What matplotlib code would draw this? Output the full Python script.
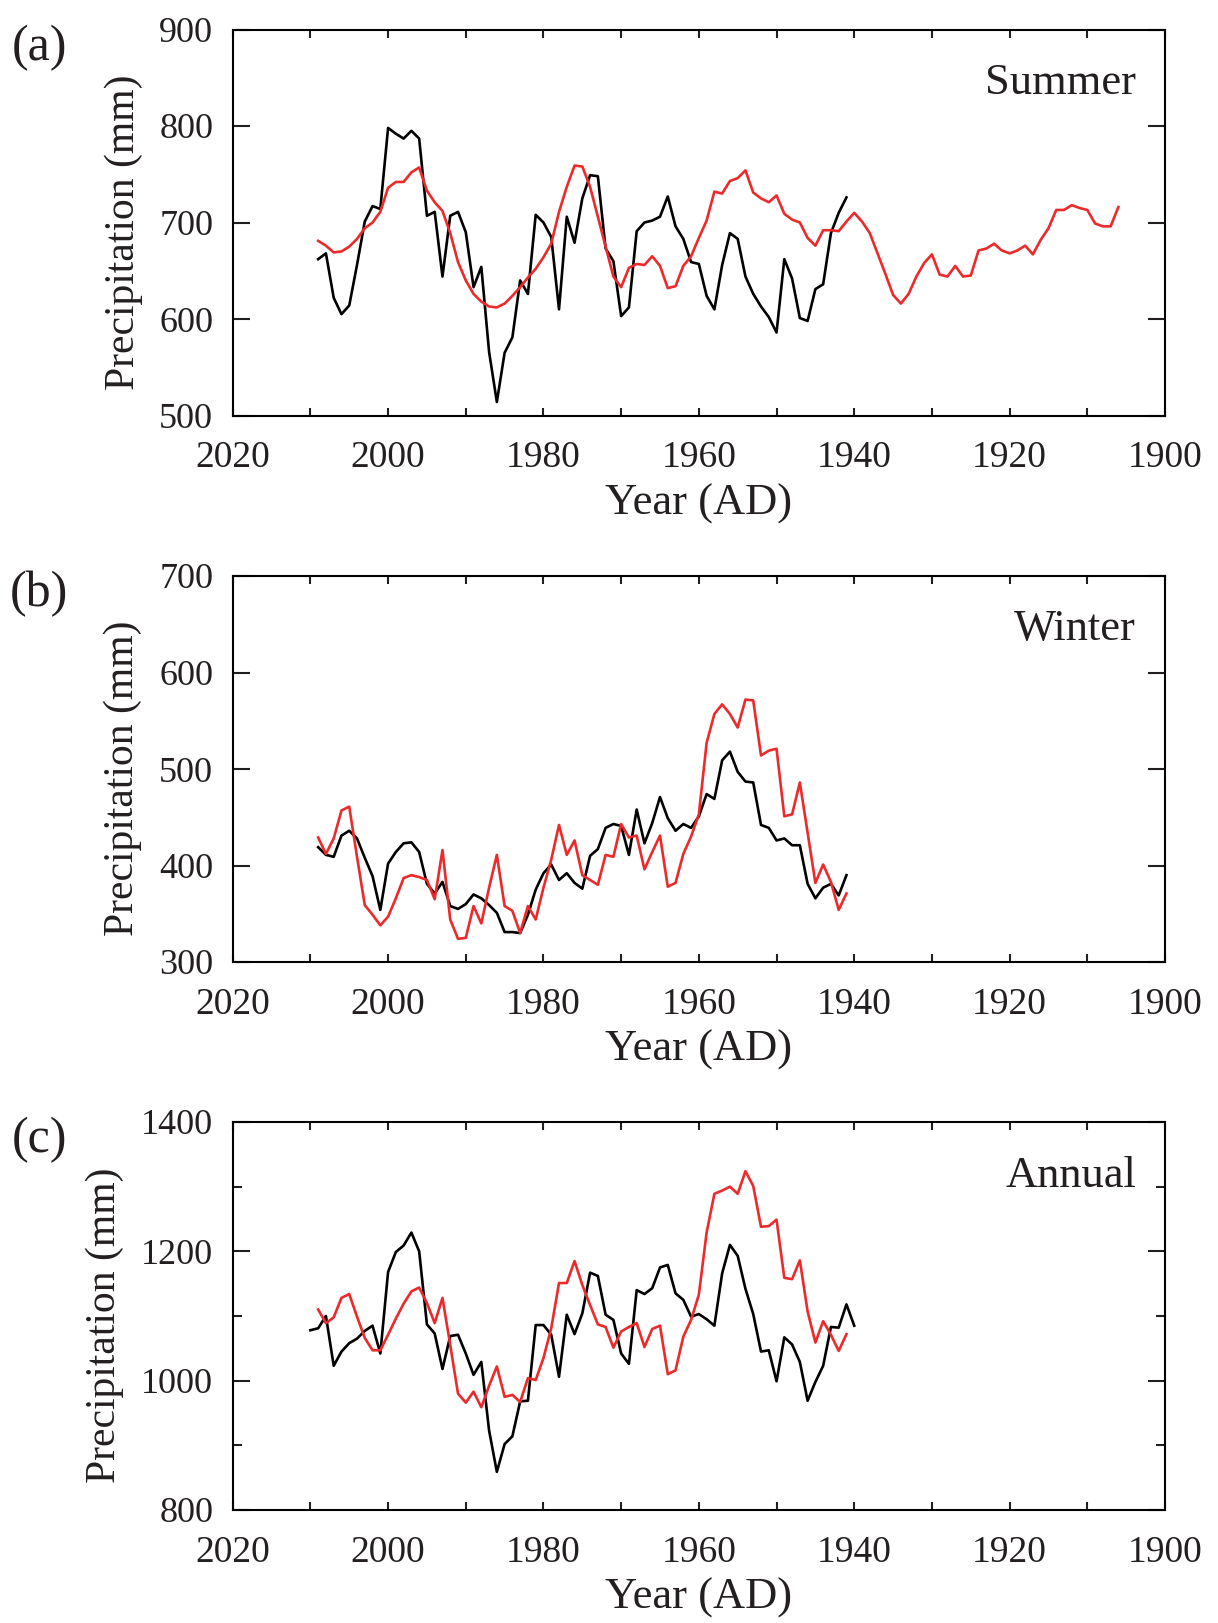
import numpy as np
import matplotlib
matplotlib.use('Agg')
import matplotlib.pyplot as plt
from matplotlib.ticker import MultipleLocator

plt.rcParams['font.family'] = ['Liberation Serif', 'DejaVu Serif']
plt.rcParams['text.color'] = '#231f20'
plt.rcParams['axes.labelcolor'] = '#231f20'
plt.rcParams['xtick.color'] = '#231f20'
plt.rcParams['ytick.color'] = '#231f20'

# Summer (a)
summer_obs_years = list(range(2009, 1940, -1))
summer_obs = [662, 668, 622, 605, 614, 656, 701, 717, 714, 798,
              792, 787, 795, 787, 707, 711, 644, 707, 711, 690,
              633, 654, 566, 514, 565, 581, 640, 626, 708, 700,
              685, 610, 706, 679, 725, 749, 748, 673, 660, 603,
              612, 691, 700, 702, 706, 727, 696, 683, 659, 657,
              624, 610, 656, 689, 683, 644, 626, 613, 602, 586,
              662, 642, 601, 598, 631, 636, 689, 710, 726]
summer_rec_years = list(range(2009, 1905, -1))
summer_rec = [681, 676, 669, 670, 675, 683, 694, 700, 711, 736,
              742, 742, 752, 757, 733, 721, 712, 689, 659, 640,
              626, 618, 613, 612, 616, 624, 633, 643, 652, 664,
              678, 711, 737, 759, 758, 737, 706, 675, 644, 633,
              653, 657, 656, 665, 655, 632, 634, 655, 665, 684,
              702, 732, 730, 743, 746, 754, 731, 725, 721, 728,
              709, 703, 700, 684, 676, 692, 692, 691, 701, 710,
              701, 689, 668, 647, 625, 616, 626, 644, 658, 667,
              646, 644, 655, 644, 645, 671, 673, 678, 671, 668,
              671, 676, 667, 682, 694, 713, 713, 718, 715, 713,
              699, 696, 696, 716]

# Winter (b)
winter_years = list(range(2009, 1940, -1))
winter_obs = [419, 411, 409, 431, 436, 428, 408, 389, 354, 402,
              414, 423, 424, 414, 381, 371, 383, 358, 355, 360,
              370, 366, 359, 351, 331, 331, 330, 349, 375, 392,
              401, 385, 392, 382, 376, 410, 417, 439, 443, 441,
              411, 458, 423, 444, 471, 449, 436, 443, 439, 451,
              474, 469, 509, 518, 497, 487, 486, 442, 439, 426,
              428, 421, 421, 381, 366, 377, 381, 369, 390]
winter_rec = [429, 412, 428, 457, 461, 409, 359, 349, 338, 347,
              366, 387, 390, 388, 385, 365, 416, 344, 324, 325,
              358, 340, 377, 411, 358, 353, 330, 358, 344, 377,
              406, 442, 411, 426, 390, 385, 380, 411, 409, 443,
              429, 431, 396, 414, 431, 378, 382, 412, 430, 453,
              527, 557, 567, 557, 543, 572, 571, 514, 519, 521,
              451, 453, 486, 434, 382, 401, 383, 354, 371]

# Annual (c)
annual_obs_years = list(range(2010, 1939, -1))
annual_obs = [1078, 1081, 1100, 1023, 1045, 1058, 1065, 1077, 1085, 1042,
              1168, 1199, 1209, 1229, 1200, 1087, 1073, 1018, 1069, 1071,
              1042, 1009, 1029, 923, 859, 902, 914, 968, 969, 1086,
              1086, 1071, 1006, 1102, 1072, 1104, 1167, 1162, 1102, 1094,
              1042, 1026, 1140, 1134, 1143, 1175, 1179, 1135, 1125, 1099,
              1103, 1095, 1085, 1166, 1210, 1193, 1142, 1103, 1045, 1047,
              999, 1067, 1056, 1029, 969, 998, 1023, 1083, 1082, 1118,
              1085]
annual_rec_years = list(range(2009, 1940, -1))
annual_rec = [1110, 1089, 1098, 1128, 1134, 1099, 1066, 1047, 1047, 1071,
              1096, 1119, 1138, 1144, 1120, 1089, 1128, 1055, 980, 966,
              983, 959, 992, 1022, 975, 978, 967, 1004, 1001, 1035,
              1081, 1151, 1151, 1185, 1148, 1117, 1087, 1083, 1051, 1076,
              1083, 1089, 1052, 1080, 1085, 1010, 1016, 1068, 1094, 1133,
              1229, 1289, 1294, 1300, 1289, 1324, 1301, 1238, 1239, 1249,
              1159, 1157, 1186, 1107, 1059, 1092, 1071, 1046, 1072]

panels = [
    ('(a)', 'Summer', summer_obs_years, summer_obs, summer_rec_years, summer_rec, (500, 900), 100, None),
    ('(b)', 'Winter', winter_years, winter_obs, winter_years, winter_rec, (300, 700), 100, None),
    ('(c)', 'Annual', annual_obs_years, annual_obs, annual_rec_years, annual_rec, (800, 1400), 200, 100),
]

W, H = 1218, 1623
fig = plt.figure(figsize=(W / 100, H / 100), dpi=100)

left, right = 232.7, 1165
boxes = [(29.5, 415.5), (576, 962), (1122, 1510)]
red = '#ec2a2b'

for (tag, season, yo, vo, yr, vr, ylim, major, minor), (top, bot) in zip(panels, boxes):
    ax = fig.add_axes([left / W, 1 - bot / H, (right - left) / W, (bot - top) / H])
    ax.plot(yo, vo, color='black', lw=1.9, zorder=3)
    ax.plot(yr, vr, color=red, lw=1.9, zorder=4)
    ax.set_xlim(2020, 1900)
    ax.set_ylim(*ylim)
    ax.xaxis.set_major_locator(MultipleLocator(20))
    ax.xaxis.set_minor_locator(MultipleLocator(10))
    ax.yaxis.set_major_locator(MultipleLocator(major))
    if minor:
        ax.yaxis.set_minor_locator(MultipleLocator(minor))
        ax.tick_params(axis='y', which='minor', direction='in', length=6.5, width=1.5,
                       left=True, right=True)
    ax.tick_params(axis='x', which='both', direction='in', length=6, width=1.5,
                   top=True, bottom=True, labelsize=27, pad=18)
    ax.tick_params(axis='y', which='major', direction='in', length=12.5, width=1.5,
                   left=True, right=True, labelsize=26, pad=14)
    for s in ax.spines.values():
        s.set_linewidth(1.5)
    ax.set_xlabel('Year (AD)', fontsize=32, labelpad=6)
    ax.set_ylabel('Precipitation (mm)', fontsize=30, labelpad=12)
    ax.yaxis.label.set_y(0.475)
    ax.text(0.969, 0.833, season, transform=ax.transAxes, ha='right', va='baseline',
            fontsize=32)
    fig.text(39 / W, 1 - (top + 18) / H, tag, ha='center', va='center', fontsize=36)

fig.savefig('out.png', dpi=100)
